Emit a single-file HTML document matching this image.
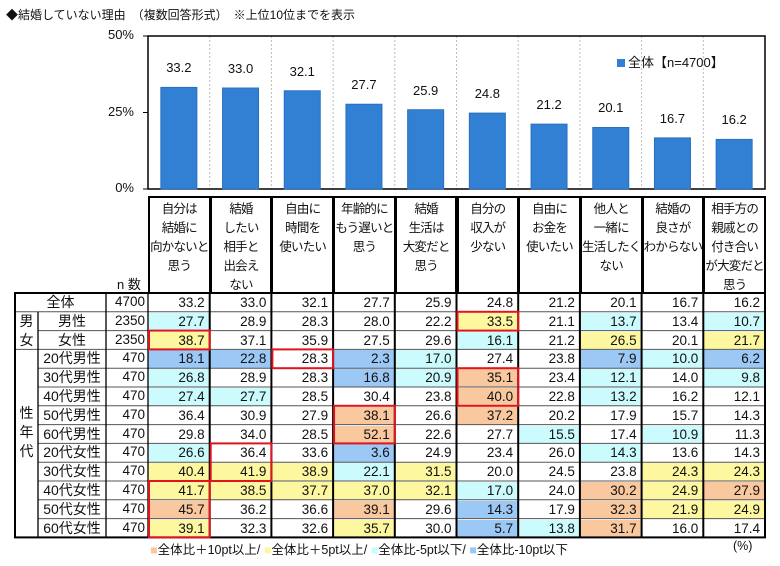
<!DOCTYPE html>
<html><head><meta charset="utf-8">
<style>
body{margin:0;background:#fff;font-family:"Liberation Sans","Noto Sans CJK JP",sans-serif;}
#root{position:relative;width:780px;height:566px;overflow:hidden;background:#fff;color:#111;}
.a{position:absolute;box-sizing:border-box;}
.t{position:absolute;white-space:nowrap;font-size:13px;}
#svg{z-index:5;pointer-events:none;}
</style></head><body>
<div id="root">
<div class="t" style="left:6px;top:6px;font-size:12px">◆結婚していない理由　（複数回答形式）　※上位10位までを表示</div>
<svg id="svg" class="a" style="left:0;top:0" width="780" height="566"></svg>
</div>
<script>
const categories=["自分は<br>結婚に<br>向かないと<br>思う","結婚<br>したい<br>相手と<br>出会え<br>ない","自由に<br>時間を<br>使いたい","年齢的に<br>もう遅いと<br>思う","結婚<br>生活は<br>大変だと<br>思う","自分の<br>収入が<br>少ない","自由に<br>お金を<br>使いたい","他人と<br>一緒に<br>生活したく<br>ない","結婚の<br>良さが<br>わからない","相手方の<br>親戚との<br>付き合い<br>が大変だと<br>思う"];
const overall=[33.2,33.0,32.1,27.7,25.9,24.8,21.2,20.1,16.7,16.2];
const yTicks=[0,25,50];
const rowLabels=["全体","男性","女性","20代男性","30代男性","40代男性","50代男性","60代男性","20代女性","30代女性","40代女性","50代女性","60代女性"];
const rowN=[4700,2350,2350,470,470,470,470,470,470,470,470,470,470];
const rowVals=[
[33.2,33.0,32.1,27.7,25.9,24.8,21.2,20.1,16.7,16.2],
[27.7,28.9,28.3,28.0,22.2,33.5,21.1,13.7,13.4,10.7],
[38.7,37.1,35.9,27.5,29.6,16.1,21.2,26.5,20.1,21.7],
[18.1,22.8,28.3,2.3,17.0,27.4,23.8,7.9,10.0,6.2],
[26.8,28.9,28.3,16.8,20.9,35.1,23.4,12.1,14.0,9.8],
[27.4,27.7,28.5,30.4,23.8,40.0,22.8,13.2,16.2,12.1],
[36.4,30.9,27.9,38.1,26.6,37.2,20.2,17.9,15.7,14.3],
[29.8,34.0,28.5,52.1,22.6,27.7,15.5,17.4,10.9,11.3],
[26.6,36.4,33.6,3.6,24.9,23.4,26.0,14.3,13.6,14.3],
[40.4,41.9,38.9,22.1,31.5,20.0,24.5,23.8,24.3,24.3],
[41.7,38.5,37.7,37.0,32.1,17.0,24.0,30.2,24.9,27.9],
[45.7,36.2,36.6,39.1,29.6,14.3,17.9,32.3,21.9,24.9],
[39.1,32.3,32.6,35.7,30.0,5.7,13.8,31.7,16.0,17.4]];
// highlight boxes: [col, firstRow, lastRow]
const boxes=[[0,2,2],[2,3,3],[3,6,7],[1,8,9],[0,10,12],[5,1,1],[5,4,5]];

const root=document.getElementById('root');
const svg=document.getElementById('svg');
const NS='http://www.w3.org/2000/svg';
const X0=148,CW=61.7,Y0=189,YH=153;
const colX=i=>X0+i*CW;
const yS=v=>Y0-v/50*YH;
function sv(tag,at){const e=document.createElementNS(NS,tag);for(const k in at)e.setAttribute(k,at[k]);svg.appendChild(e);return e;}
function div(cls,style,html){const d=document.createElement('div');d.className=cls;d.style.cssText=style;if(html!=null)d.innerHTML=html;root.appendChild(d);return d;}
for(let i=1;i<10;i++){const l=sv('line',{x1:colX(i),x2:colX(i),y1:36,y2:Y0,stroke:'#bbb','stroke-dasharray':'2,2'});}
const pf=sv('rect',{x:X0,y:36,width:CW*10,height:Y0-36,fill:'none',stroke:'#000','stroke-width':1.5});

yTicks.forEach(v=>{
 const tk=sv('line',{x1:X0-5,x2:X0,y1:yS(v),y2:yS(v),stroke:'#000'});
 
 const d=div('t','right:'+(780-134)+'px;top:'+(yS(v)-9)+'px;font-size:13px',v+'%');
 
});
overall.forEach((v,i)=>{
 const cx=colX(i)+CW/2;
 const r=sv('rect',{x:cx-18,y:yS(v),width:36,height:Y0-yS(v),fill:'#3280d4',stroke:'#2a6fc0','stroke-width':1});
 
 const d=div('t','left:'+(cx-30)+'px;width:60px;text-align:center;top:'+(yS(v)-27)+'px;font-size:13px',v.toFixed(1));
 
});
const lg=div('t','left:617px;top:52px;font-size:13px','<span style="display:inline-block;width:8px;height:8px;background:#3280d4;margin-right:3px"></span>全体【n=4700】');

categories.forEach((c,i)=>{
 const d=div('a','left:'+colX(i)+'px;top:196px;width:'+(CW+1)+'px;height:99px;border:2px solid #000;text-align:center;font-size:12.5px;line-height:19px;padding-top:2px;white-space:nowrap;letter-spacing:-0.8px;overflow:visible',c);
 
});
const nl=div('t','left:117px;top:274px;font-size:13px','n 数');

const T0=293,RH=18.8;
function cls(v,b){const d=Math.round((v-b)*10)/10;if(d>=10)return '#f9c89e';if(d>=5)return '#fdf7a0';if(d<=-10)return '#9cc8f6';if(d<=-5)return '#ccfbfd';return '#fff';}
rowLabels.forEach((lab,r)=>{
 const y=T0+r*RH;
 const lx=r===0?15:38;
 const l=div('a','left:'+lx+'px;top:'+y+'px;width:'+(106-lx)+'px;height:'+RH+'px;text-align:center;font-size:14px;line-height:'+RH+'px',lab);
 
 const n=div('a','left:106px;top:'+y+'px;width:42px;height:'+RH+'px;text-align:right;padding-right:3px;font-size:13.5px;line-height:'+RH+'px',rowN[r]);
 
 rowVals[r].forEach((v,c)=>{
  const bg=r===0?'#fff':cls(v,overall[c]);
  const d=div('a','left:'+colX(c)+'px;top:'+(y+1)+'px;width:'+CW+'px;height:'+(RH-1)+'px;background:'+bg+';text-align:right;padding-right:5px;font-size:13.5px;line-height:'+(RH-1)+'px',v.toFixed(1));
  
 });
});
const g1=div('a','left:15px;top:'+(T0+RH)+'px;width:23px;height:'+(2*RH)+'px;text-align:center;font-size:14px;line-height:'+RH+'px','男<br>女');

const g2=div('a','left:15px;top:'+(T0+3*RH)+'px;width:23px;height:'+(10*RH)+'px;text-align:center;font-size:14px;line-height:19px;padding-top:55px','性<br>年<br>代');

const TB=T0+13*RH;
for(let r=1;r<13;r++){const lx=(r===2||r>=4)?38:15;const l=sv('line',{x1:lx,x2:765,y1:T0+r*RH,y2:T0+r*RH,stroke:'#555','stroke-width':1});}
[38,106,148].forEach((x,k)=>{const l=sv('line',{x1:x,x2:x,y1:k===0?T0+RH:T0,y2:TB,stroke:'#000','stroke-width':1.3});});
for(let i=1;i<10;i++){const l=sv('line',{x1:colX(i),x2:colX(i),y1:T0,y2:TB,stroke:'#000','stroke-width':2});}
const tf=sv('rect',{x:15,y:T0,width:750,height:TB-T0,fill:'none',stroke:'#000','stroke-width':2});

boxes.forEach(b=>{const r=sv('rect',{x:colX(b[0])+1,y:T0+b[1]*RH,width:CW-1,height:(b[2]-b[1]+1)*RH,fill:'none',stroke:'#e0141e','stroke-width':2});});
const bl=div('t','left:150px;top:539px;font-size:12.5px','<span style="color:#f9c89e">■</span>全体比＋10pt以上/ <span style="color:#fdf7a0">■</span>全体比＋5pt以上/ <span style="color:#ccfbfd">■</span>全体比-5pt以下/ <span style="color:#9cc8f6">■</span>全体比-10pt以下');

const pc=div('t','left:733px;top:539px;font-size:12.5px','(%)');

</script>
</body></html>
